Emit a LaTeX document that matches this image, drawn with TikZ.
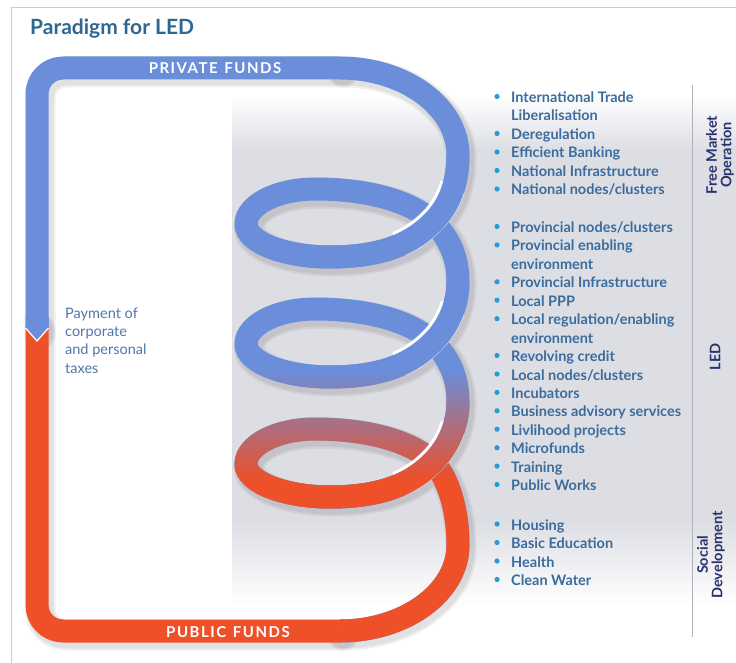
\documentclass[tikz,border=0pt]{standalone}
\usepackage{fontspec}
\setmainfont{Lato}
\newfontfamily\bandfont[LetterSpace=10.0]{Lato}
\usetikzlibrary{fadings}

\definecolor{pipeblue}{RGB}{106,142,218}
\definecolor{pipered}{RGB}{238,80,42}
\definecolor{titleblue}{RGB}{46,104,146}
\definecolor{itemblue}{RGB}{58,108,158}
\definecolor{noteblue}{RGB}{80,120,170}
\definecolor{bulletblue}{RGB}{38,156,214}
\definecolor{sidenavy}{RGB}{40,50,110}
\definecolor{panelgrey}{RGB}{221,222,228}
\definecolor{framegrey}{RGB}{204,204,208}
\definecolor{rulegrey}{RGB}{176,176,186}

% vertical blend mask: clear above, solid below, centred on the origin
\begin{tikzfadingfrompicture}[name=downblend]
  \fill[transparent!100] (-600pt,55pt) rectangle (600pt,400pt);
  \shade[top color=transparent!100,bottom color=transparent!0] (-600pt,-55pt) rectangle (600pt,55pt);
  \fill[transparent!0] (-600pt,-400pt) rectangle (600pt,-55pt);
\end{tikzfadingfrompicture}

\tikzset{
  pipe/.style={line width=23pt,line cap=butt,line join=round},
  bluepipe/.style={pipe,draw=pipeblue},
  redpipe/.style={pipe,draw=pipered},
  blendpipe/.style={pipe,draw=pipered,path fading=downblend,fit fading=false,
    fading transform={shift={(0,425)}}},
  softshadow/.style={line width=#1,line cap=round,line join=round,draw=black,opacity=0.06},
  itemtext/.style={anchor=base west,inner sep=0pt,text=itemblue,
    font=\fontsize{14.5}{17}\selectfont\bfseries},
  notetext/.style={anchor=base west,inner sep=0pt,text=noteblue,
    font=\fontsize{14.5}{17}\selectfont},
  sidelabel/.style={inner sep=0pt,text=sidenavy,align=center,rotate=90,
    font=\fontsize{14.5}{14.5}\selectfont\bfseries},
  bandtext/.style={anchor=base,inner sep=0pt,text=white,
    font=\fontsize{15}{17}\selectfont\bandfont\bfseries},
}

% pipe geometry (units are pixels, y grows downwards)
\def\topframe{(37,330) -- (37,68) -- (340,68)}
\def\bottomframe{(37,326) -- (37,631) -- (340,631)}
\def\coilpath{(340,68)
 .. controls (405,68) and (458,107) .. (458,155)
 .. controls (458,185) and (448,207) .. (433,222)
 .. controls (415,240) and (388,257) .. (330,257)
 .. controls (284,257) and (246,242) .. (246,224)
 .. controls (246,205) and (277,189) .. (315,189)
 .. controls (365,189) and (410,200) .. (433,222)
 .. controls (448,237) and (458,255) .. (458,282)
 .. controls (458,305) and (448,327) .. (433,342)
 .. controls (415,360) and (388,377) .. (330,377)
 .. controls (284,377) and (246,362) .. (246,344)
 .. controls (246,325) and (277,309) .. (315,309)
 .. controls (365,309) and (410,320) .. (433,342)
 .. controls (448,357) and (458,375) .. (458,402)
 .. controls (458,425) and (448,447) .. (433,462)
 .. controls (415,480) and (388,497) .. (330,497)
 .. controls (284,497) and (246,482) .. (246,464)
 .. controls (246,445) and (277,429) .. (315,429)
 .. controls (365,429) and (410,440) .. (433,462)
 .. controls (448,477) and (458,510) .. (458,545)
 .. controls (458,593) and (404,631) .. (340,631)}
\def\frontone{(458,155) .. controls (458,185) and (448,207) .. (433,222)
 .. controls (415,240) and (388,257) .. (330,257) .. controls (284,257) and (246,242) .. (246,224)}
\def\fronttwo{(458,282) .. controls (458,305) and (448,327) .. (433,342)
 .. controls (415,360) and (388,377) .. (330,377) .. controls (284,377) and (246,362) .. (246,344)}
\def\frontthree{(458,402) .. controls (458,425) and (448,447) .. (433,462)
 .. controls (415,480) and (388,497) .. (330,497) .. controls (284,497) and (246,482) .. (246,464)}

\newcommand\bulletitem[3]{%
  \fill[bulletblue] (497,#2-6) circle[radius=2.6pt];
  \node[itemtext] (#1) at (511,#2) {#3};}
\newcommand\moreitem[3]{\node[itemtext] (#1) at (511,#2) {#3};}

\begin{document}
\begin{tikzpicture}[x=1pt,y=-1pt]
\useasboundingbox (0,0) rectangle (736,663);
\fill[white] (0,0) rectangle (736,663);
\draw[framegrey,line width=1pt] (11,663) -- (11,8) -- (736,8);

% shaded backdrop behind the coil and the lists
\shade[top color=white,bottom color=panelgrey] (232,95) rectangle (736,151);
\fill[panelgrey] (232,150) rectangle (736,521);
\shade[top color=panelgrey,bottom color=white] (232,520) rectangle (736,606);

% soft shadows of the pipe
\begin{scope}[shift={(3,4)}]
  \foreach \w in {31pt,27pt} {
    \draw[softshadow=\w,rounded corners=26pt] \topframe;
    \draw[softshadow=\w,rounded corners=26pt] \bottomframe;
    \draw[softshadow=\w] \coilpath;
  }
\end{scope}

% frame: public funds (red) and private funds (blue)
\draw[redpipe,rounded corners=26pt] \bottomframe;
\draw[bluepipe,rounded corners=26pt] \topframe;
\fill[pipeblue] (25.5,316) -- (25.5,328) -- (37,341) -- (48.5,328) -- (48.5,316) -- cycle;
\draw[white,line width=1.2pt] (25.5,328) -- (37,341) -- (48.5,328);

% the coil, blue turning red downwards
\draw[bluepipe] \coilpath;
\draw[blendpipe] \coilpath;

% strands lying in front at the crossings
\foreach \cy/\piece in {222/\frontone,342/\fronttwo,462/\frontthree} {
  \begin{scope}
    \clip (433,\cy) circle[radius=42pt];
    \draw[white,line width=26.5pt,line cap=butt] [shift={(-1,-1)}] \piece;
  \end{scope}
  \draw[bluepipe] \piece;
  \draw[blendpipe] \piece;
}

% titles and band labels
\node[anchor=base west,inner sep=0pt,text=titleblue,font=\fontsize{21}{24}\selectfont\bfseries]
  (title) at (30,35) {Paradigm for LED};
\node[bandtext] (private) at (215,74) {PRIVATE\hspace{0.45em}FUNDS};
\node[bandtext] (public) at (228,637) {PUBLIC\hspace{0.45em}FUNDS};

\node[notetext] (pay1) at (65,318.3) {Payment of};
\node[notetext] (pay2) at (65,336.6) {corporate};
\node[notetext] (pay3) at (65,354.9) {and personal};
\node[notetext] (pay4) at (65,373.2) {taxes};

% lists
\bulletitem{trade}{102.5}{International Trade}
\moreitem{tradeb}{121}{Liberalisation}
\bulletitem{dereg}{139.5}{Deregulation}
\bulletitem{bank}{158}{Efficient Banking}
\bulletitem{natinf}{176.5}{National Infrastructure}
\bulletitem{natnod}{195}{National nodes/clusters}

\bulletitem{provnod}{232.5}{Provincial nodes/clusters}
\bulletitem{provenv}{250.9}{Provincial enabling}
\moreitem{provenvb}{269.4}{environment}
\bulletitem{provinf}{287.8}{Provincial Infrastructure}
\bulletitem{ppp}{306.2}{Local PPP}
\bulletitem{locreg}{324.7}{Local regulation/enabling}
\moreitem{locregb}{343.1}{environment}
\bulletitem{credit}{361.5}{Revolving credit}
\bulletitem{locnod}{380}{Local nodes/clusters}
\bulletitem{incub}{398.4}{Incubators}
\bulletitem{advice}{416.8}{Business advisory services}
\bulletitem{livli}{435.2}{Livlihood projects}
\bulletitem{micro}{453.7}{Microfunds}
\bulletitem{train}{472.1}{Training}
\bulletitem{works}{490.5}{Public Works}

\bulletitem{housing}{530}{Housing}
\bulletitem{educ}{548.5}{Basic Education}
\bulletitem{health}{567}{Health}
\bulletitem{water}{585.5}{Clean Water}

% category column
\draw[rulegrey,line width=1pt] (692,85) -- (692,637);
\node[sidelabel] (freemkt) at (720,155) {Free Market\\Operation};
\node[sidelabel] (led) at (715,357) {LED};
\node[sidelabel] (social) at (711,555) {Social\\Development};
\end{tikzpicture}
\end{document}
